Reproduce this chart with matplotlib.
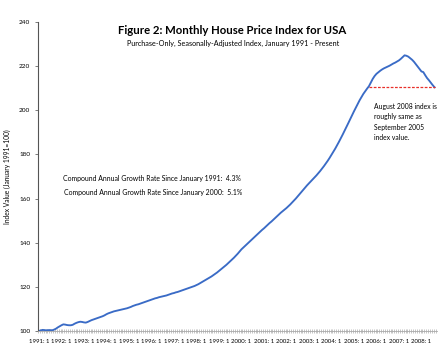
import matplotlib
matplotlib.use("Agg")
import matplotlib.pyplot as plt
import numpy as np

plt.rcParams['font.family'] = ['Lato', 'DejaVu Sans']

# Monthly index values, Jan 1991 .. Aug 2008 (Jan 1991 = 100)
hpi_1991 = [100.0, 100.3, 100.5, 100.4, 100.3, 100.4, 100.4, 100.3, 100.6, 101.0, 101.6, 102.1]
hpi_1992 = [102.6, 103.0, 102.9, 102.7, 102.6, 102.6, 102.8, 103.3, 103.7, 104.0, 104.2, 104.1]
hpi_1993 = [103.9, 103.8, 104.1, 104.5, 104.9, 105.2, 105.5, 105.8, 106.1, 106.4, 106.7, 107.1]
hpi_1994 = [107.6, 108.0, 108.3, 108.6, 108.9, 109.1, 109.3, 109.5, 109.7, 109.9, 110.1, 110.3]
hpi_1995 = [110.6, 110.9, 111.3, 111.6, 111.9, 112.1, 112.4, 112.7, 113.0, 113.3, 113.6, 113.9]
hpi_1996 = [114.2, 114.5, 114.8, 115.0, 115.3, 115.5, 115.7, 115.9, 116.1, 116.4, 116.7, 117.0]
hpi_1997 = [117.2, 117.5, 117.7, 118.0, 118.3, 118.6, 118.9, 119.2, 119.5, 119.8, 120.1, 120.4]
hpi_1998 = [120.8, 121.2, 121.7, 122.2, 122.7, 123.2, 123.7, 124.2, 124.7, 125.3, 125.9, 126.5]
hpi_1999 = [127.2, 127.9, 128.6, 129.3, 130.0, 130.8, 131.6, 132.4, 133.2, 134.1, 135.0, 136.0]
hpi_2000 = [137.0, 137.8, 138.6, 139.4, 140.2, 141.0, 141.8, 142.6, 143.4, 144.2, 145.0, 145.8]
hpi_2001 = [146.5, 147.3, 148.1, 148.9, 149.6, 150.4, 151.2, 152.0, 152.8, 153.6, 154.3, 155.0]
hpi_2002 = [155.7, 156.5, 157.3, 158.2, 159.1, 160.0, 161.0, 162.0, 163.0, 164.0, 165.0, 166.0]
hpi_2003 = [166.9, 167.8, 168.7, 169.6, 170.5, 171.5, 172.5, 173.6, 174.7, 175.9, 177.1, 178.4]
hpi_2004 = [179.8, 181.2, 182.6, 184.1, 185.7, 187.3, 189.0, 190.7, 192.4, 194.2, 196.0, 197.8]
hpi_2005 = [199.5, 201.2, 202.9, 204.5, 206.0, 207.4, 208.6, 209.8, 210.9, 212.6, 214.2, 215.5]
hpi_2006 = [216.5, 217.2, 217.9, 218.5, 219.0, 219.4, 219.8, 220.2, 220.7, 221.2, 221.6, 222.1]
hpi_2007 = [222.6, 223.3, 224.1, 224.9, 224.7, 224.3, 223.6, 222.9, 222.0, 220.9, 219.8, 218.7]
hpi_2008 = [217.6, 217.3, 215.9, 214.6, 213.6, 212.5, 211.4, 210.4]

years = list(range(1991, 2009))
year_labels = [f"{y}: 1" for y in years]
y_ticks = [100, 120, 140, 160, 180, 200, 220, 240]

values = (hpi_1991 + hpi_1992 + hpi_1993 + hpi_1994 + hpi_1995 + hpi_1996 +
          hpi_1997 + hpi_1998 + hpi_1999 + hpi_2000 + hpi_2001 + hpi_2002 +
          hpi_2003 + hpi_2004 + hpi_2005 + hpi_2006 + hpi_2007 + hpi_2008)
months = np.arange(len(values))
sep2005 = (2005 - 1991) * 12 + 8

fig = plt.figure(figsize=(4.46, 3.5), dpi=100)
ax = fig.add_axes([38 / 446, 1 - 331 / 350, (437 - 38) / 446, (331 - 22) / 350])

ax.plot(months, values, color='#3A6BC6', lw=1.35, solid_joinstyle='round')
ax.plot([sep2005, months[-1]], [values[-1], values[-1]], color='#E8302A',
        lw=0.9, dashes=(2.2, 1.2))

ax.set_xlim(-0.5, 212.3)
ax.set_ylim(100, 240)
ax.set_yticks(y_ticks)
ax.set_yticklabels([str(v) for v in y_ticks], fontsize=4.6)
ax.set_xticks(months[::12])
ax.set_xticklabels(year_labels, fontsize=4.3)
ax.set_xticks(np.arange(-0.5, 212.3, 1), minor=True)
ax.tick_params(axis='x', which='major', length=0, pad=5.5)
ax.tick_params(axis='x', which='minor', length=3, width=0.4, color='#9a9a9a', direction='inout')
ax.tick_params(axis='y', length=2.5, width=0.6, color='#666666', pad=3)

for s in ['top', 'right']:
    ax.spines[s].set_visible(False)
ax.spines['left'].set_color('#555555')
ax.spines['left'].set_linewidth(0.8)
ax.spines['bottom'].set_color('#aaaaaa')
ax.spines['bottom'].set_linewidth(0.6)

ax.set_ylabel('Index Value (January 1991=100)', fontsize=4.8, labelpad=6)

fig.text(232 / 446, 1 - 31 / 350, 'Figure 2: Monthly House Price Index for USA',
         ha='center', va='center', fontsize=8.2, fontweight='bold')
fig.text(233 / 446, 1 - 43 / 350, 'Purchase-Only, Seasonally-Adjusted Index, January 1991 - Present',
         ha='center', va='center', fontsize=5.2)

fig.text(63 / 446, 1 - 178 / 350, 'Compound Annual Growth Rate Since January 1991:  4.3%',
         ha='left', va='center', fontsize=4.95)
fig.text(64 / 446, 1 - 193 / 350, 'Compound Annual Growth Rate Since January 2000:  5.1%',
         ha='left', va='center', fontsize=4.95)

fig.text(374 / 446, 1 - 103 / 350,
         'August 2008 index is\nroughly same as\nSeptember 2005\nindex value.',
         ha='left', va='top', fontsize=4.9, linespacing=1.55)

fig.savefig('out.png', dpi=100)
